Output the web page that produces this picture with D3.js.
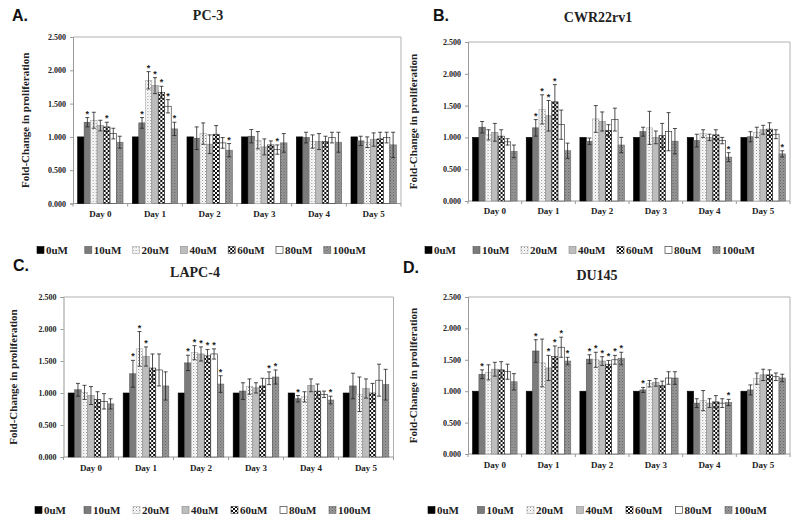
<!DOCTYPE html>
<html><head><meta charset="utf-8">
<script src="https://cdn.jsdelivr.net/npm/d3@7"></script>
<style>body{margin:0;background:#fff}svg{display:block}</style>
</head><body>
<svg id="chart" width="800" height="524"></svg>
<script>
const days = ["Day 0","Day 1","Day 2","Day 3","Day 4","Day 5"];
const series = ["0uM","10uM","20uM","40uM","60uM","80uM","100uM"];
const yTicks = [0, 0.5, 1.0, 1.5, 2.0, 2.5];

// PC-3
const pc3Values = [
  [1.00,1.22,1.25,1.17,1.15,1.05,0.92],
  [1.00,1.21,1.85,1.77,1.67,1.46,1.12],
  [1.00,0.98,1.05,0.89,1.04,0.91,0.80],
  [1.00,1.01,0.95,0.85,0.88,0.81,0.91],
  [1.00,0.99,0.93,0.93,0.93,0.99,0.92],
  [1.00,0.94,0.92,0.96,0.97,0.99,0.88]];
const pc3Errors = [
  [0,0.07,0.12,0.08,0.07,0.08,0.09],
  [0,0.08,0.13,0.12,0.09,0.10,0.10],
  [0,0.17,0.16,0.14,0.13,0.08,0.10],
  [0,0.10,0.13,0.12,0.06,0.07,0.14],
  [0,0.08,0.10,0.12,0.08,0.08,0.15],
  [0,0.07,0.08,0.10,0.10,0.08,0.19]];
const pc3Stars = [[1,4],[1,2,3,4,5,6],[6],[5],[],[]];

// CWR22rv1
const cwrValues = [
  [1.00,1.16,1.04,1.08,1.02,0.93,0.78],
  [1.00,1.15,1.44,1.34,1.56,1.20,0.79],
  [1.00,0.94,1.29,1.25,1.11,1.28,0.88],
  [1.00,1.09,1.15,1.00,1.03,1.09,0.94],
  [1.00,0.95,1.06,1.00,1.04,0.95,0.69],
  [1.00,1.01,1.08,1.12,1.13,1.05,0.74]];
const cwrErrors = [
  [0,0.09,0.08,0.14,0.10,0.05,0.10],
  [0,0.13,0.23,0.24,0.27,0.23,0.12],
  [0,0.05,0.21,0.15,0.09,0.18,0.12],
  [0,0.07,0.26,0.10,0.19,0.30,0.20],
  [0,0.10,0.06,0.05,0.08,0.05,0.07],
  [0,0.08,0.08,0.07,0.10,0.07,0.05]];
const cwrStars = [[],[1,2,3,4],[],[],[6],[6]];

// LAPC-4
const lapcValues = [
  [1.00,1.05,1.01,0.96,0.90,0.87,0.83],
  [1.00,1.30,1.69,1.57,1.39,1.36,1.11],
  [1.00,1.47,1.63,1.61,1.58,1.61,1.14],
  [1.00,1.03,1.10,1.08,1.11,1.23,1.25],
  [1.00,0.91,0.94,1.12,1.03,0.98,0.89],
  [1.00,1.11,0.98,1.07,1.00,1.20,1.13]];
const lapcErrors = [
  [0,0.10,0.11,0.14,0.12,0.12,0.08],
  [0,0.21,0.27,0.15,0.22,0.25,0.22],
  [0,0.12,0.11,0.11,0.10,0.08,0.13],
  [0,0.13,0.12,0.08,0.12,0.10,0.11],
  [0,0.05,0.08,0.10,0.11,0.05,0.06],
  [0,0.20,0.27,0.15,0.15,0.25,0.24]];
const lapcStars = [[],[1,2,3],[1,2,3,4,5,6],[5,6],[1,6],[]];

// DU145
const duValues = [
  [1.00,1.27,1.30,1.35,1.34,1.31,1.15],
  [1.00,1.64,1.45,1.37,1.55,1.70,1.48],
  [1.00,1.51,1.50,1.48,1.43,1.50,1.52],
  [1.00,1.02,1.12,1.14,1.09,1.21,1.21],
  [1.00,0.81,0.85,0.81,0.83,0.81,0.82],
  [1.00,1.02,1.20,1.26,1.26,1.23,1.21]];
const duErrors = [
  [0,0.07,0.12,0.11,0.13,0.12,0.13],
  [0,0.18,0.38,0.20,0.17,0.16,0.06],
  [0,0.07,0.12,0.07,0.06,0.07,0.10],
  [0,0.04,0.05,0.06,0.07,0.10,0.10],
  [0,0.07,0.16,0.07,0.10,0.07,0.05],
  [0,0.08,0.09,0.09,0.08,0.06,0.06]];
const duStars = [[1],[1,3,4,5,6],[1,2,3,4,5,6],[1],[6],[]];

const svg = d3.select("#chart");
const defs = svg.append("defs");
// patterns
const p20 = defs.append("pattern").attr("id","pDots").attr("width",3).attr("height",3).attr("patternUnits","userSpaceOnUse");
p20.append("rect").attr("width",3).attr("height",3).attr("fill","#fff");
p20.append("rect").attr("x",0).attr("y",0).attr("width",1).attr("height",1).attr("fill","#8a8a8a");
p20.append("rect").attr("x",1.5).attr("y",1.5).attr("width",1).attr("height",1).attr("fill","#b5b5b5");
const p60 = defs.append("pattern").attr("id","pCheck").attr("width",4).attr("height",4).attr("patternUnits","userSpaceOnUse");
p60.append("rect").attr("width",4).attr("height",4).attr("fill","#fff");
p60.append("rect").attr("x",0).attr("y",0).attr("width",2).attr("height",2).attr("fill","#111");
p60.append("rect").attr("x",2).attr("y",2).attr("width",2).attr("height",2).attr("fill","#111");
const p100 = defs.append("pattern").attr("id","pHatch").attr("width",3).attr("height",3).attr("patternUnits","userSpaceOnUse");
p100.append("rect").attr("width",3).attr("height",3).attr("fill","#999");
p100.append("rect").attr("x",0).attr("y",0).attr("width",1).attr("height",1).attr("fill","#5e5e5e");
p100.append("rect").attr("x",1.5).attr("y",1.5).attr("width",1).attr("height",1).attr("fill","#6e6e6e");

const fills = ["#000","#7b7b7b","url(#pDots)","#bdbdbd","url(#pCheck)","#fff","url(#pHatch)"];
const strokes = ["#000","#555","#aaa","#888","#333","#222","#666"];
const color = d3.scaleOrdinal().domain(series).range(fills);
const strokeC = d3.scaleOrdinal().domain(series).range(strokes);

const serif = "'Liberation Serif','Times New Roman',serif";
const sans = "'Liberation Sans',Arial,sans-serif";

function panel(cfg){
  const g = svg.append("g");
  const x0 = d3.scaleBand().domain(days).range([cfg.left,cfg.right]).paddingInner(0.17).paddingOuter(0.085);
  const x1 = d3.scaleBand().domain(series).range([0,x0.bandwidth()]);
  const y = d3.scaleLinear().domain([0,2.5]).range([cfg.bottom,cfg.top]);
  const step = (cfg.right-cfg.left)/days.length;

  // frame (top, right)
  g.append("path").attr("d",`M${cfg.left},${cfg.top}H${cfg.right}V${cfg.bottom}`)
    .attr("fill","none").attr("stroke","#b0b0b0").attr("stroke-width",1);

  // y axis
  const ya = g.append("g").attr("transform",`translate(${cfg.left},0)`)
    .call(d3.axisLeft(y).tickValues(yTicks).tickFormat(d3.format(".3f")).tickSize(3).tickPadding(4));
  ya.select(".domain").attr("stroke","#999");
  ya.selectAll(".tick line").attr("stroke","#999");
  ya.selectAll("text").attr("font-family",serif).attr("font-weight","bold").attr("font-size","8px").attr("fill","#222");

  // x axis
  const bounds = d3.range(days.length+1).map(i=>cfg.left+i*step);
  g.append("line").attr("x1",cfg.left).attr("x2",cfg.right).attr("y1",cfg.bottom).attr("y2",cfg.bottom).attr("stroke","#999");
  g.selectAll(".xt").data(bounds).join("line").attr("x1",d=>d).attr("x2",d=>d)
    .attr("y1",cfg.bottom).attr("y2",cfg.bottom+3).attr("stroke","#999");
  g.selectAll(".dl").data(days).join("text")
    .attr("x",d=>x0(d)+x0.bandwidth()/2).attr("y",cfg.dayY)
    .attr("text-anchor","middle").attr("dominant-baseline","central")
    .attr("font-family",serif).attr("font-weight","bold").attr("font-size","9px").attr("fill","#222").text(d=>d);

  // bars
  days.forEach((day,di)=>{
    const gg = g.append("g").attr("transform",`translate(${x0(day)},0)`);
    const rows = series.map((s,si)=>({s,si,v:cfg.values[di][si],e:cfg.errors[di][si]}));
    gg.selectAll("rect").data(rows).join("rect")
      .attr("x",d=>x1(d.s)).attr("width",x1.bandwidth())
      .attr("y",d=>y(d.v)).attr("height",d=>y(0)-y(d.v))
      .attr("fill",d=>color(d.s)).attr("stroke",d=>strokeC(d.s)).attr("stroke-width",0.6);
    const eb = rows.filter(d=>d.e>0);
    const cx = d=>x1(d.s)+x1.bandwidth()/2;
    gg.selectAll(".ev").data(eb).join("line").attr("x1",cx).attr("x2",cx)
      .attr("y1",d=>y(d.v-d.e)).attr("y2",d=>y(d.v+d.e)).attr("stroke","#222").attr("stroke-width",0.8);
    gg.selectAll(".et").data(eb).join("line").attr("x1",d=>cx(d)-2).attr("x2",d=>cx(d)+2)
      .attr("y1",d=>y(d.v+d.e)).attr("y2",d=>y(d.v+d.e)).attr("stroke","#222").attr("stroke-width",0.8);
    gg.selectAll(".eb").data(eb).join("line").attr("x1",d=>cx(d)-2).attr("x2",d=>cx(d)+2)
      .attr("y1",d=>y(d.v-d.e)).attr("y2",d=>y(d.v-d.e)).attr("stroke","#222").attr("stroke-width",0.8);
    const st = rows.filter(d=>cfg.stars[di].includes(d.si));
    gg.selectAll(".st").data(st).join("text").attr("x",cx).attr("y",d=>y(d.v+d.e)-1)
      .attr("text-anchor","middle").attr("font-family",sans).attr("font-weight","bold")
      .attr("font-size","9px").attr("fill","#222").text("*");
  });

  // titles
  g.append("text").attr("x",cfg.titleX).attr("y",cfg.titleY).attr("text-anchor","middle").attr("dominant-baseline","central")
    .attr("font-family",serif).attr("font-weight","bold").attr("font-size","14px").attr("fill","#222").text(cfg.title);
  g.append("text").attr("x",cfg.labX).attr("y",cfg.labY).attr("dominant-baseline","central")
    .attr("font-family",sans).attr("font-weight","bold").attr("font-size","16px").attr("fill","#111").text(cfg.lab);
  g.append("text").attr("transform",`translate(${cfg.ytX},${(cfg.top+cfg.bottom)/2}) rotate(-90)`)
    .attr("text-anchor","middle").attr("dominant-baseline","central")
    .attr("font-family",serif).attr("font-weight","bold").attr("font-size","11px").attr("fill","#222")
    .text("Fold-Change in proliferation");

  // legend
  const lg = g.append("g");
  const items = lg.selectAll("g").data(series).join("g")
    .attr("transform",(d,i)=>`translate(${cfg.legX+i*cfg.legStep},${cfg.legY})`);
  items.append("rect").attr("x",0).attr("y",-3.5).attr("width",7).attr("height",7)
    .attr("fill",d=>color(d)).attr("stroke",d=>strokeC(d)).attr("stroke-width",0.6);
  items.append("text").attr("x",9).attr("y",0).attr("dominant-baseline","central")
    .attr("font-family",serif).attr("font-weight","bold").attr("font-size","11px").attr("fill","#222").text(d=>d);
}

panel({values:pc3Values,errors:pc3Errors,stars:pc3Stars,title:"PC-3",lab:"A.",
  left:73,right:401,top:37,bottom:203.5,dayY:214,titleX:208,titleY:15,labX:12,labY:15,ytX:25,
  legX:37,legY:250,legStep:47.8});
panel({values:cwrValues,errors:cwrErrors,stars:cwrStars,title:"CWR22rv1",lab:"B.",
  left:468,right:790,top:42,bottom:201,dayY:211,titleX:598,titleY:17,labX:433,labY:15,ytX:413,
  legX:425,legY:250,legStep:48});
panel({values:lapcValues,errors:lapcErrors,stars:lapcStars,title:"LAPC-4",lab:"C.",
  left:63.5,right:393.5,top:297,bottom:457,dayY:468,titleX:195,titleY:272,labX:13,labY:265,ytX:13,
  legX:35,legY:510,legStep:49});
panel({values:duValues,errors:duErrors,stars:duStars,title:"DU145",lab:"D.",
  left:468,right:790,top:297,bottom:454,dayY:465,titleX:597,titleY:275,labX:403,labY:267,ytX:413,
  legX:428,legY:510,legStep:49.5});
</script>
</body></html>
